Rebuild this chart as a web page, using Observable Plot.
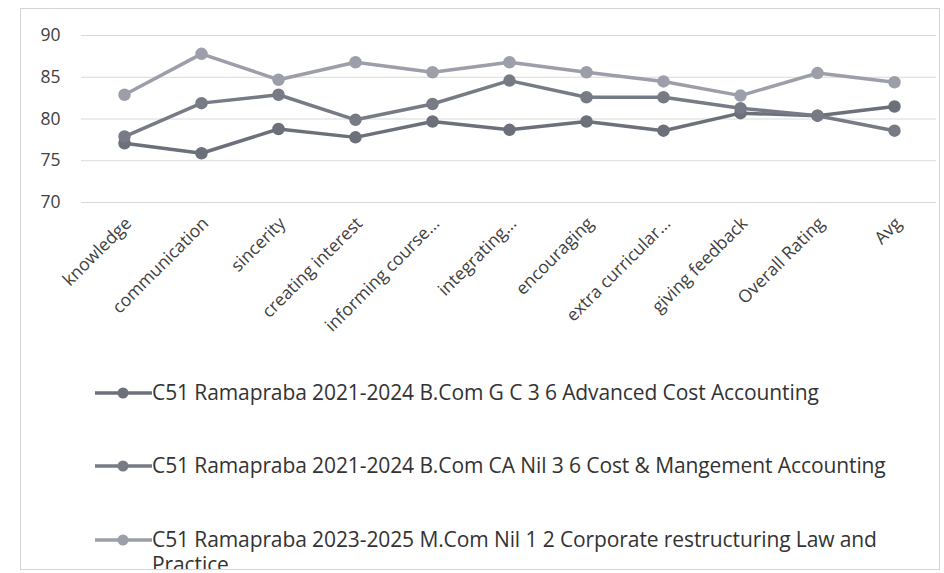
<!DOCTYPE html>
<html>
<head>
<meta charset="utf-8">
<script src="https://cdn.jsdelivr.net/npm/d3@7"></script>
<script src="https://cdn.jsdelivr.net/npm/@observablehq/plot@0.6"></script>
<style>
  html, body { margin: 0; padding: 0; background: #fff; width: 944px; height: 573px; overflow: hidden; }
  #frame { position: absolute; left: 20px; top: 8px; width: 918px; height: 560px; border: 1px solid #d4d4d4; overflow: hidden; }
  #chart { position: absolute; left: 0; top: 0; }
  #legend { position: absolute; left: 0; top: 0; width: 944px; height: 569px; overflow: hidden; font-family: "Open Sans", sans-serif; color: #333; }
  .item { position: absolute; left: 95px; display: flex; align-items: flex-start; }
  .item .txt { font-size: 21px; line-height: 25px; width: 760px; letter-spacing: -0.1px; }
  .item svg { flex: none; margin-top: 3px; }
</style>
</head>
<body>
<div id="frame"></div>
<div id="chart"></div>
<div id="legend"></div>
<script>
const categories = ["knowledge", "communication", "sincerity", "creating interest", "informing course...", "integrating...", "encouraging", "extra curricular...", "giving feedback", "Overall Rating", "Avg"];
const seriesNames = [
  "C51 Ramapraba 2021-2024 B.Com G C 3 6 Advanced Cost Accounting",
  "C51 Ramapraba 2021-2024 B.Com CA Nil 3 6 Cost & Mangement Accounting",
  "C51 Ramapraba 2023-2025 M.Com Nil 1 2 Corporate restructuring Law and Practice"
];
const advancedCost = [77.1, 75.9, 78.8, 77.8, 79.7, 78.7, 79.7, 78.6, 80.7, 80.4, 81.5];
const costMgmt = [77.9, 81.9, 82.9, 79.9, 81.8, 84.6, 82.6, 82.6, 81.3, 80.4, 78.6];
const corpRestructuring = [82.9, 87.8, 84.7, 86.8, 85.6, 86.8, 85.6, 84.5, 82.8, 85.5, 84.4];
const yTicks = [70, 75, 80, 85, 90];
const seriesColors = ["#6c707b", "#777b86", "#9c9fa9"];

const allSeries = [advancedCost, costMgmt, corpRestructuring];
const data = allSeries.flatMap((vals, i) => vals.map((v, j) => ({series: seriesNames[i], category: categories[j], value: v})));

const chart = Plot.plot({
  width: 944,
  height: 360,
  marginLeft: 81,
  marginRight: 8,
  marginTop: 35,
  marginBottom: 158,
  style: {fontFamily: "'Open Sans', sans-serif", fontSize: "16px", color: "#404040", background: "transparent", overflow: "visible"},
  x: {type: "point", domain: categories, padding: 0.5, label: null},
  y: {domain: [70, 90], label: null},
  color: {domain: seriesNames, range: seriesColors},
  marks: [
    Plot.ruleY(yTicks, {stroke: "#d9d9d9", strokeWidth: 1.2}),
    Plot.axisY({ticks: yTicks, tickSize: 0, tickPadding: 21, fontSize: 17.5, label: null}),
    Plot.axisX({tickSize: 0, tickPadding: 8, tickRotate: -45, fontSize: 17.5, dx: 4, dy: 10, label: null}),
    Plot.line(data, {x: "category", y: "value", z: "series", stroke: "series", strokeWidth: 3.5, strokeLinejoin: "round"}),
    Plot.dot(data, {x: "category", y: "value", fill: "series", stroke: "series", r: 5.5})
  ]
});
document.getElementById("chart").appendChild(chart);

const legend = document.getElementById("legend");
const tops = [380, 453, 527];
seriesNames.forEach((name, i) => {
  const item = document.createElement("div");
  item.className = "item";
  item.style.top = tops[i] + "px";
  const sw = d3.create("svg").attr("width", 57).attr("height", 20);
  sw.append("line").attr("x1", 0).attr("x2", 57).attr("y1", 10).attr("y2", 10).attr("stroke", seriesColors[i]).attr("stroke-width", 3.5);
  sw.append("circle").attr("cx", 28).attr("cy", 10).attr("r", 5.5).attr("fill", seriesColors[i]);
  item.appendChild(sw.node());
  const t = document.createElement("div");
  t.className = "txt";
  t.textContent = name;
  item.appendChild(t);
  legend.appendChild(item);
});
</script>
</body>
</html>
